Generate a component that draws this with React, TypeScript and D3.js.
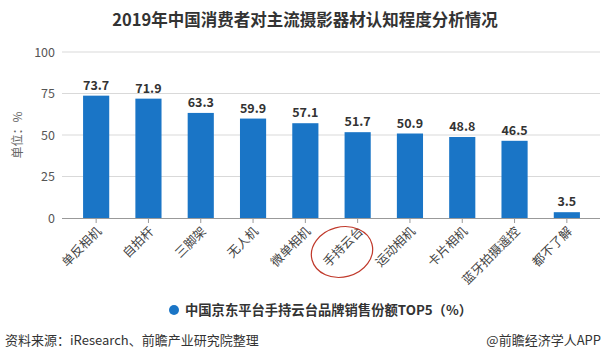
import React from "react";
import * as d3 from "d3";

const categories = ["单反相机", "自拍杆", "三脚架", "无人机", "微单相机", "手持云台", "运动相机", "卡片相机", "蓝牙拍摄遥控", "都不了解"];
const values = [73.7, 71.9, 63.3, 59.9, 57.1, 51.7, 50.9, 48.8, 46.5, 3.5];
const yTicks = [0, 25, 50, 75, 100];
const title = "2019年中国消费者对主流摄影器材认知程度分析情况";
const legendLabel = "中国京东平台手持云台品牌销售份额TOP5（%）";
const unitLabel = "单位：%";
const sourceText = "资料来源：iResearch、前瞻产业研究院整理";
const brandText = "@前瞻经济学人APP";

const W = 606, H = 364;
const font = "'Noto Sans CJK SC', 'Noto Sans', sans-serif";
const barColor = "#1a75c6";

export default function App() {
  const x = d3.scaleBand<string>().domain(categories).range([70, 593]).paddingInner(0.5).paddingOuter(0.25);
  const y = d3.scaleLinear().domain([0, 100]).range([218, 52]);
  const bw = x.bandwidth();
  return (
    <svg width={W} height={H} style={{ position: "absolute", left: 0, top: 0, background: "#fff" }} fontFamily={font}>
      <text x={305} y={26} textAnchor="middle" fontSize={16.5} fontWeight="bold" fill="#333">{title}</text>
      {yTicks.map(t => (
        <g key={t}>
          {t > 0 && <line x1={62} x2={600} y1={y(t)} y2={y(t)} stroke="#d9d9d9" strokeWidth={1} />}
          <text x={55} y={y(t) + 4.5} textAnchor="end" fontSize={12.5} fill="#555">{t}</text>
        </g>
      ))}
      <text transform={`translate(22,${y(50)}) rotate(-90)`} textAnchor="middle" fontSize={12} fill="#666">{unitLabel}</text>
      {categories.map((c, i) => {
        const cx = (x(c) ?? 0) + bw / 2;
        return (
          <g key={c}>
            <rect x={x(c)} y={y(values[i])} width={bw} height={y(0) - y(values[i])} fill={barColor} />
            <text x={cx} y={y(values[i]) - 6} textAnchor="middle" fontSize={12.5} fontWeight="bold" fill="#333">{values[i]}</text>
            <line x1={cx} x2={cx} y1={218} y2={223} stroke="#999" />
            <text transform={`translate(${cx + 3},${229}) rotate(-45)`} textAnchor="end" dy="0.35em" fontSize={12.5} fill="#444">{c}</text>
          </g>
        );
      })}
      <line x1={62} x2={600} y1={218.5} y2={218.5} stroke="#999" />
      <ellipse cx={342} cy={252} rx={31} ry={25} transform="rotate(-15,342,252)" fill="none" stroke="#c0392b" strokeWidth={1.2} />
      <circle cx={174} cy={310} r={5} fill={barColor} />
      <text x={185} y={314.5} fontSize={13.3} fontWeight="bold" fill="#333">{legendLabel}</text>
      <text x={5} y={345} fontSize={13} fill="#333">{sourceText}</text>
      <text x={601} y={345} textAnchor="end" fontSize={13} fill="#333">{brandText}</text>
    </svg>
  );
}
